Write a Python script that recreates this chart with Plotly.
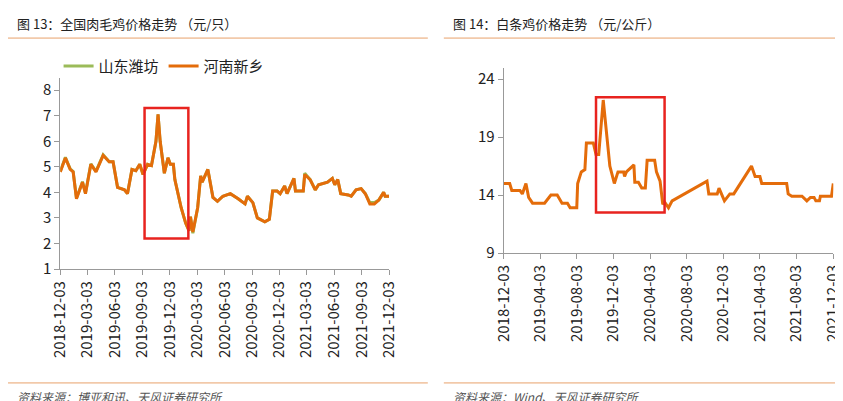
import plotly.graph_objects as go

# 图13 全国肉毛鸡价格 (元/只)
left_dates = [
    "2018-12-03", "2018-12-20", "2019-01-05", "2019-01-15", "2019-01-26", "2019-02-15",
    "2019-02-25", "2019-03-15", "2019-04-01", "2019-04-25", "2019-05-15", "2019-05-28",
    "2019-06-12", "2019-07-05", "2019-07-15", "2019-07-30", "2019-08-12", "2019-08-25",
    "2019-09-05", "2019-09-20", "2019-10-03", "2019-10-18", "2019-10-25", "2019-11-01",
    "2019-11-15", "2019-11-27", "2019-12-05", "2019-12-15", "2019-12-20", "2020-01-10",
    "2020-01-25", "2020-02-05", "2020-02-10", "2020-02-18", "2020-03-05", "2020-03-15",
    "2020-03-20", "2020-04-08", "2020-04-25", "2020-05-10", "2020-05-28", "2020-06-22",
    "2020-07-18", "2020-08-10", "2020-08-18", "2020-09-05", "2020-09-20", "2020-10-15",
    "2020-10-30", "2020-11-10", "2020-11-25", "2020-12-05", "2020-12-20", "2020-12-28",
    "2021-01-20", "2021-01-25", "2021-02-20", "2021-02-25", "2021-03-15", "2021-04-01",
    "2021-04-12", "2021-05-12", "2021-05-28", "2021-06-05", "2021-06-15", "2021-06-25",
    "2021-07-20", "2021-07-30", "2021-08-15", "2021-09-01", "2021-09-15", "2021-09-30",
    "2021-10-15", "2021-10-30", "2021-11-15", "2021-11-20", "2021-12-03",
]
henan = [
    4.8, 5.35, 4.9, 4.8, 3.75, 4.4,
    3.95, 5.1, 4.8, 5.45, 5.2, 5.2,
    4.2, 4.1, 3.95, 4.9, 4.85, 5.1,
    4.7, 5.1, 5.05, 6.0, 7.05, 6.0,
    4.75, 5.35, 5.1, 5.1, 4.5, 3.4,
    2.8, 2.5, 3.05, 2.45, 3.4, 4.65,
    4.4, 4.9, 3.8, 3.65, 3.85, 3.95,
    3.75, 3.55, 3.85, 3.6, 3.0, 2.85,
    2.95, 4.05, 4.05, 3.95, 4.25, 3.95,
    4.55, 4.05, 4.05, 4.7, 4.5, 4.1,
    4.3, 4.4, 4.55, 4.3, 4.5, 3.95,
    3.9, 3.85, 4.1, 4.15, 3.95, 3.55,
    3.55, 3.7, 4.0, 3.85, 3.85,
]
shandong = [
    4.82, 5.37, 4.92, 4.82, 3.77, 4.42,
    3.97, 5.12, 4.82, 5.47, 5.2, 5.2,
    4.2, 4.1, 3.95, 4.9, 4.85, 5.1,
    4.7, 5.1, 5.05, 6.0, 7.05, 6.0,
    4.75, 5.35, 5.1, 5.1, 4.5, 3.4,
    2.8, 2.5, 3.05, 2.4, 3.4, 4.65,
    4.4, 4.9, 3.8, 3.65, 3.85, 3.95,
    3.75, 3.55, 3.85, 3.6, 3.0, 2.85,
    2.95, 4.05, 4.05, 3.95, 4.25, 3.95,
    4.55, 4.05, 4.05, 4.75, 4.5, 4.1,
    4.3, 4.4, 4.55, 4.3, 4.5, 3.95,
    3.9, 3.85, 4.1, 4.15, 3.95, 3.6,
    3.6, 3.7, 4.0, 3.85, 3.85,
]
left_ticks = ["2018-12-03", "2019-03-03", "2019-06-03", "2019-09-03", "2019-12-03",
              "2020-03-03", "2020-06-03", "2020-09-03", "2020-12-03", "2021-03-03",
              "2021-06-03", "2021-09-03", "2021-12-03"]

# 图14 白条鸡价格 (元/公斤)
right_dates = [
    "2018-12-03", "2018-12-23", "2018-12-30", "2019-01-26", "2019-02-03", "2019-02-15",
    "2019-02-24", "2019-03-09", "2019-04-18", "2019-05-09", "2019-05-30", "2019-06-15",
    "2019-07-03", "2019-07-12", "2019-08-03", "2019-08-06", "2019-08-18", "2019-08-30",
    "2019-09-04", "2019-09-27", "2019-10-06", "2019-10-15", "2019-10-30", "2019-11-21",
    "2019-12-06", "2019-12-18", "2020-01-06", "2020-01-09", "2020-01-15", "2020-02-09",
    "2020-02-12", "2020-02-24", "2020-03-06", "2020-03-18", "2020-03-24", "2020-04-18",
    "2020-04-24", "2020-05-06", "2020-05-15", "2020-05-21", "2020-06-03", "2020-06-15",
    "2020-10-09", "2020-10-15", "2020-11-12", "2020-11-18", "2020-12-06", "2020-12-24",
    "2021-01-06", "2021-03-06", "2021-03-18", "2021-04-03", "2021-04-09", "2021-07-01",
    "2021-07-06", "2021-07-18", "2021-08-21", "2021-09-06", "2021-09-18", "2021-09-30",
    "2021-10-06", "2021-10-18", "2021-10-21", "2021-11-27", "2021-12-03",
]
baitiao = [
    15.0, 15.0, 14.4, 14.4, 14.1, 15.0,
    13.8, 13.3, 13.3, 14.0, 14.0, 13.3,
    13.3, 12.9, 12.9, 15.0, 16.0, 16.2,
    18.5, 18.5, 17.5, 17.5, 22.2, 16.5,
    15.0, 16.0, 16.0, 15.6, 16.0, 16.6,
    15.1, 15.1, 14.6, 14.6, 17.0, 17.0,
    16.0, 15.2, 13.2, 13.4, 12.9, 13.5,
    15.2, 14.1, 14.1, 14.6, 13.5, 14.1,
    14.1, 16.5, 15.6, 15.6, 15.0, 15.0,
    14.1, 13.9, 13.9, 13.5, 13.8, 13.8,
    13.5, 13.5, 13.9, 13.9, 15.0,
]
right_ticks = ["2018-12-03", "2019-04-03", "2019-08-03", "2019-12-03", "2020-04-03",
               "2020-08-03", "2020-12-03", "2021-04-03", "2021-08-03", "2021-12-03"]

GREEN = "#9BBB59"
ORANGE = "#E46C0A"
FONT = "Noto Sans CJK SC"

fig = go.Figure()
fig.add_trace(go.Scatter(x=left_dates, y=shandong, name="山东潍坊", mode="lines",
                         line=dict(color=GREEN, width=3), xaxis="x", yaxis="y"))
fig.add_trace(go.Scatter(x=left_dates, y=henan, name="河南新乡", mode="lines",
                         line=dict(color=ORANGE, width=3), xaxis="x", yaxis="y"))
fig.add_trace(go.Scatter(x=right_dates, y=baitiao, name="白条鸡", mode="lines", showlegend=False,
                         line=dict(color=ORANGE, width=3), xaxis="x2", yaxis="y2"))

axis_common = dict(showgrid=False, zeroline=False, showline=True, linecolor="#999999",
                   ticks="outside", tickcolor="#999999", ticklen=5, automargin=False,
                   tickfont=dict(family=FONT, size=15, color="#222222"))

fig.update_layout(
    width=843, height=401, margin=dict(l=0, r=0, t=0, b=0),
    paper_bgcolor="white", plot_bgcolor="white",
    font=dict(family=FONT),
    xaxis=dict(domain=[0.062, 0.452], anchor="y", type="date",
               range=["2018-12-03", "2021-12-03"], tickvals=left_ticks,
               tickformat="%Y-%m-%d", tickangle=-90, **axis_common),
    yaxis=dict(domain=[0.349, 0.825], anchor="x", range=[1, 8.47], dtick=1, **axis_common),
    xaxis2=dict(domain=[0.588, 0.979], anchor="y2", type="date",
                range=["2018-12-03", "2021-12-03"], tickvals=right_ticks,
                tickformat="%Y-%m-%d", tickangle=-90, **axis_common),
    yaxis2=dict(domain=[0.389, 0.850], anchor="x2", range=[9, 24.95], tickvals=[9, 14, 19, 24],
                **axis_common),
    legend=dict(orientation="h", x=0.06, y=0.855, xanchor="left", yanchor="middle",
                font=dict(family=FONT, size=15, color="#222222"), bgcolor="rgba(0,0,0,0)"),
    showlegend=True,
)

# red highlight boxes
fig.add_shape(type="rect", xref="x", yref="y", x0="2019-09-10", x1="2020-02-03", y0=2.2, y1=7.3,
              line=dict(color="#E8231F", width=2.5))
fig.add_shape(type="rect", xref="x2", yref="y2", x0="2019-10-06", x1="2020-05-21", y0=12.5, y1=22.45,
              line=dict(color="#E8231F", width=2.5))

# header / footer rules
for x0, x1 in [(0.0, 0.498), (0.517, 1.0)]:
    fig.add_shape(type="line", xref="paper", yref="paper", x0=x0, x1=x1, y0=0.925, y1=0.925,
                  line=dict(color="#E8A16B", width=1))
    fig.add_shape(type="line", xref="paper", yref="paper", x0=x0, x1=x1, y0=0.065, y1=0.065,
                  line=dict(color="#E8A16B", width=1))

fig.add_annotation(text="图 13：全国肉毛鸡价格走势 （元/只）", xref="paper", yref="paper", x=0.008, y=0.962,
                   xanchor="left", yanchor="middle", showarrow=False,
                   font=dict(family=FONT, size=13, color="#222222"))
fig.add_annotation(text="图 14：白条鸡价格走势 （元/公斤）", xref="paper", yref="paper", x=0.525, y=0.962,
                   xanchor="left", yanchor="middle", showarrow=False,
                   font=dict(family=FONT, size=13, color="#222222"))
fig.add_annotation(text="<i>资料来源：博亚和讯、天风证券研究所</i>", xref="paper", yref="paper", x=0.008, y=0.032,
                   xanchor="left", yanchor="middle", showarrow=False,
                   font=dict(family=FONT, size=12, color="#555555"))
fig.add_annotation(text="<i>资料来源：Wind、天风证券研究所</i>", xref="paper", yref="paper", x=0.525, y=0.032,
                   xanchor="left", yanchor="middle", showarrow=False,
                   font=dict(family=FONT, size=12, color="#555555"))

fig.write_html("out.html")
